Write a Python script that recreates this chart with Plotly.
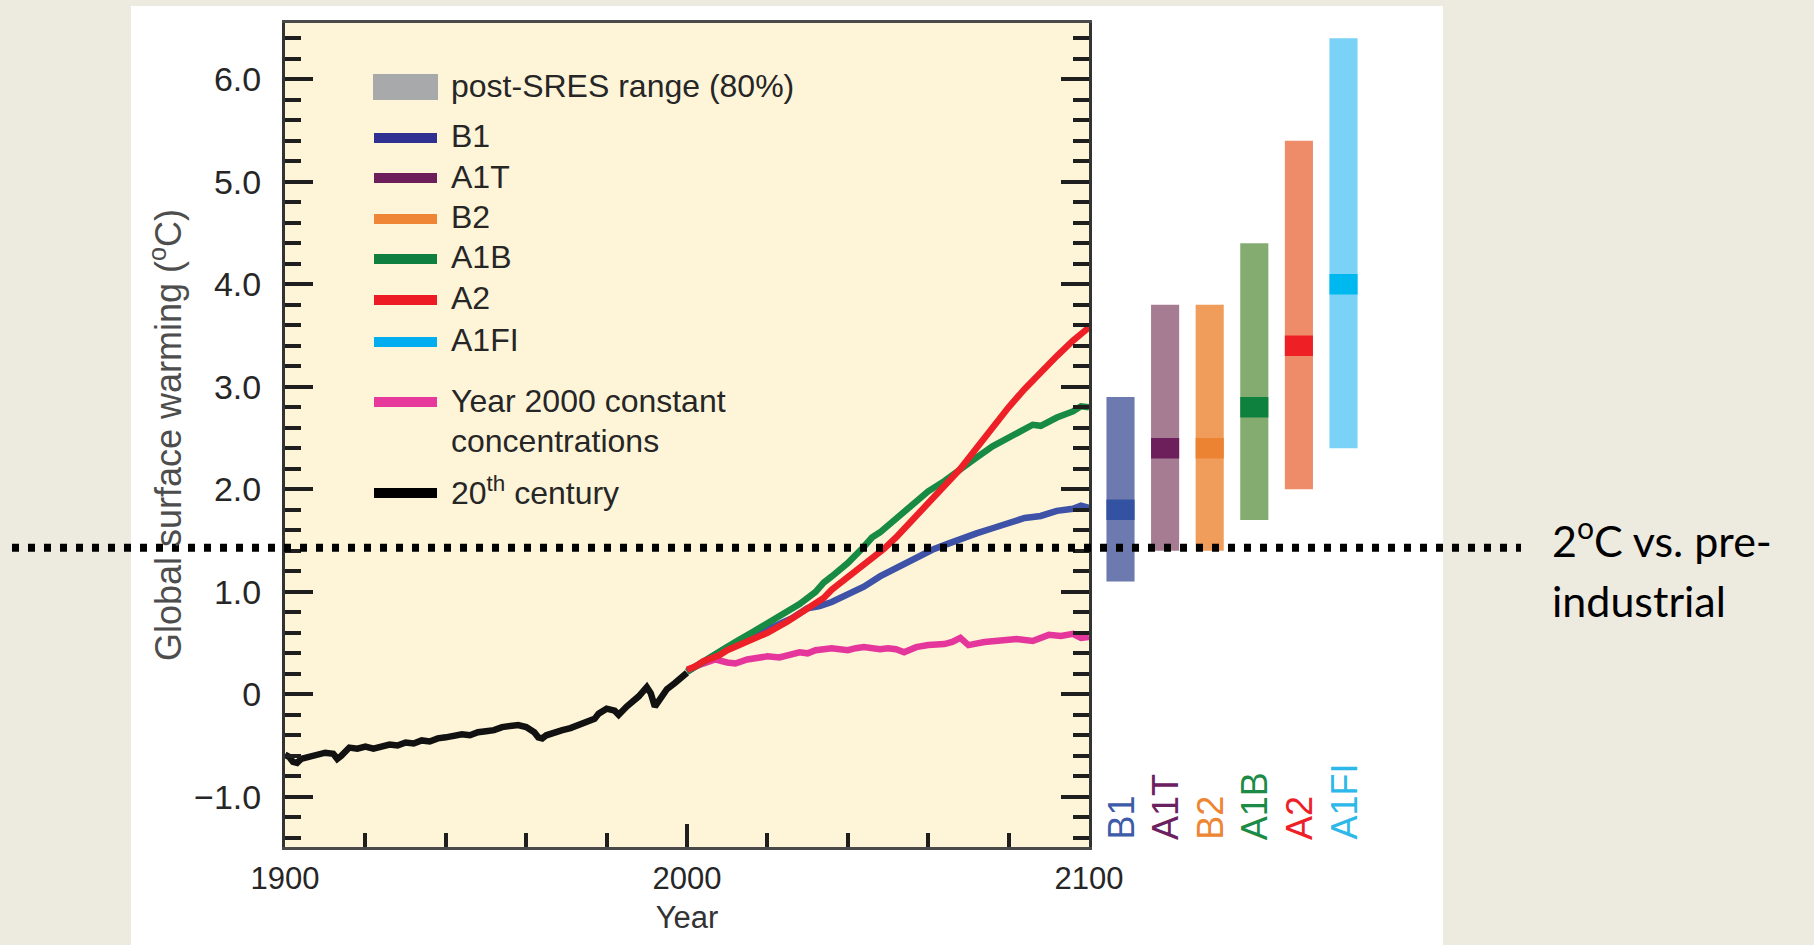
import plotly.graph_objects as go

W, H = 1814, 945

# ---------------- data ----------------
hist_years = [1900, 1901, 1902, 1903, 1904, 1906, 1908, 1910, 1912, 1913, 1914, 1916, 1918,
              1920, 1922, 1924, 1926, 1928, 1930, 1932, 1934, 1936, 1938, 1940, 1942, 1944,
              1946, 1948, 1950, 1952, 1954, 1956, 1958, 1960, 1962, 1963, 1964, 1965, 1967,
              1969, 1971, 1973, 1975, 1977, 1978, 1980, 1982, 1983, 1985, 1987, 1988, 1990,
              1991, 1992, 1993, 1995, 1997, 1998, 2000]
hist_vals = [-0.59, -0.61, -0.66, -0.67, -0.63, -0.61, -0.60, -0.57, -0.58, -0.63, -0.60, -0.52, -0.53,
             -0.51, -0.53, -0.51, -0.49, -0.50, -0.47, -0.48, -0.45, -0.46, -0.43, -0.42, -0.41, -0.39,
             -0.40, -0.37, -0.36, -0.35, -0.32, -0.31, -0.30, -0.32, -0.37, -0.42, -0.43, -0.40, -0.37,
             -0.35, -0.33, -0.30, -0.27, -0.24, -0.19, -0.14, -0.16, -0.20, -0.12, -0.06, -0.02, 0.07,
             0.01, -0.12, -0.06, 0.05, 0.11, 0.14, 0.21]

const_years = [2000, 2002, 2004, 2007, 2010, 2012, 2015, 2018, 2020, 2023, 2025, 2028, 2030,
               2032, 2036, 2040, 2042, 2044, 2048, 2050, 2052, 2054, 2057, 2060, 2064, 2066,
               2068, 2070, 2074, 2078, 2082, 2086, 2088, 2090, 2093, 2096, 2098, 2100]
const_vals = [0.22, 0.27, 0.30, 0.34, 0.31, 0.30, 0.34, 0.36, 0.37, 0.36, 0.38, 0.41, 0.40,
              0.43, 0.45, 0.43, 0.45, 0.46, 0.44, 0.45, 0.44, 0.41, 0.46, 0.48, 0.49, 0.51,
              0.55, 0.48, 0.51, 0.52, 0.54, 0.52, 0.55, 0.58, 0.57, 0.59, 0.55, 0.56]

b1_years = [2000, 2003, 2006, 2010, 2013, 2016, 2020, 2023, 2026, 2030, 2033, 2036, 2040,
            2044, 2048, 2052, 2056, 2058, 2061, 2065, 2068, 2072, 2076, 2080, 2084, 2088,
            2090, 2092, 2096, 2098, 2100]
b1_vals = [0.22, 0.29, 0.36, 0.46, 0.51, 0.56, 0.63, 0.68, 0.74, 0.84, 0.86, 0.90, 0.97,
           1.05, 1.15, 1.23, 1.31, 1.34, 1.41, 1.47, 1.52, 1.57, 1.62, 1.67, 1.72, 1.74,
           1.77, 1.79, 1.81, 1.84, 1.82]

a1b_years = [2000, 2004, 2008, 2012, 2016, 2020, 2024, 2028, 2032, 2034, 2036, 2040, 2044,
             2046, 2048, 2052, 2056, 2060, 2064, 2068, 2072, 2076, 2080, 2084, 2086, 2088,
             2092, 2096, 2098, 2100]
a1b_vals = [0.22, 0.32, 0.42, 0.51, 0.60, 0.69, 0.78, 0.88, 1.00, 1.09, 1.15, 1.28, 1.44,
            1.53, 1.58, 1.72, 1.86, 1.98, 2.08, 2.20, 2.31, 2.42, 2.50, 2.58, 2.63, 2.62,
            2.70, 2.76, 2.81, 2.80]

a2_years = [2000, 2002, 2004, 2006, 2008, 2010, 2013, 2015, 2018, 2020, 2025, 2028, 2032,
            2034, 2036, 2040, 2045, 2049, 2052, 2056, 2060, 2064, 2068, 2072, 2076, 2078,
            2080, 2084, 2088, 2092, 2096, 2100]
a2_vals = [0.24, 0.27, 0.32, 0.35, 0.38, 0.43, 0.48, 0.52, 0.57, 0.60, 0.71, 0.79, 0.88,
           0.94, 1.02, 1.14, 1.30, 1.42, 1.53, 1.70, 1.88, 2.03, 2.20, 2.40, 2.60, 2.72,
           2.80, 2.98, 3.15, 3.30, 3.45, 3.58]

scenarios = ["B1", "A1T", "B2", "A1B", "A2", "A1FI"]
best_2100 = [1.8, 2.4, 2.4, 2.8, 3.4, 4.0]
low_2100 = [1.1, 1.4, 1.4, 1.7, 2.0, 2.4]
high_2100 = [2.9, 3.8, 3.8, 4.4, 5.4, 6.4]

y_tickvals = [-1, 0, 1, 2, 3, 4, 5, 6]
y_ticktext = ["\u22121.0", "0", "1.0", "2.0", "3.0", "4.0", "5.0", "6.0"]
x_tickvals = [1900, 2000, 2100]
x_ticktext = ["1900", "2000", "2100"]

threshold_2c = 1.43

legend_labels = ["B1", "A1T", "B2", "A1B", "A2", "A1FI"]

# ---------------- styles ----------------
light_cols = ["#6C7AB0", "#A57C92", "#F09C5A", "#85AC70", "#EE8C69", "#7AD2F6"]
dark_cols = ["#3452A2", "#6C1F5B", "#EC8332", "#0F813F", "#EE2026", "#00B8F0"]
label_cols = ["#3D5BA9", "#6B2160", "#EE8533", "#1B8B45", "#EE2027", "#2DB8EA"]
key_cols = ["#2E3192", "#6D1F5C", "#EF8636", "#0F7F3F", "#ED1C24", "#00AEEF"]
band_half = 0.1

FONT = "Liberation Sans, Arial, Helvetica, sans-serif"


def px(x):
    return x / W


def py(y):
    return 1 - y / H


fig = go.Figure()

line_w = 6.5
fig.add_trace(go.Scatter(x=hist_years, y=hist_vals, mode="lines",
                         line=dict(color="#111111", width=line_w), name="20th century"))
fig.add_trace(go.Scatter(x=const_years, y=const_vals, mode="lines",
                         line=dict(color="#E5379B", width=line_w), name="Year 2000 constant concentrations"))
fig.add_trace(go.Scatter(x=b1_years, y=b1_vals, mode="lines",
                         line=dict(color="#3E52A8", width=line_w), name="B1"))
fig.add_trace(go.Scatter(x=a1b_years, y=a1b_vals, mode="lines",
                         line=dict(color="#178A43", width=line_w), name="A1B"))
fig.add_trace(go.Scatter(x=a2_years, y=a2_vals, mode="lines",
                         line=dict(color="#EE2027", width=line_w), name="A2"))

# likely ranges at 2100 (light bars) and best estimates (dark bands)
fig.add_trace(go.Bar(x=scenarios, y=[h - l for h, l in zip(high_2100, low_2100)], base=low_2100,
                     xaxis="x2", yaxis="y", width=0.63,
                     marker=dict(color=light_cols, line=dict(width=0)), name="likely range"))
fig.add_trace(go.Bar(x=scenarios, y=[2 * band_half] * len(best_2100),
                     base=[b - band_half for b in best_2100],
                     xaxis="x2", yaxis="y", width=0.63,
                     marker=dict(color=dark_cols, line=dict(width=0)), name="best estimate"))

shapes = []
# white panel behind the figure
shapes.append(dict(type="rect", xref="paper", yref="paper", x0=px(131), x1=px(1443),
                   y0=0, y1=py(6), fillcolor="#FFFFFF", line=dict(width=0), layer="below"))
# yellow plot background
shapes.append(dict(type="rect", xref="paper", yref="paper", x0=px(285), x1=px(1089),
                   y0=py(847), y1=py(23), fillcolor="#FEF5D8", line=dict(width=0), layer="below"))

# manual legend keys
shapes.append(dict(type="rect", xref="paper", yref="paper", x0=px(373), x1=px(438),
                   y0=py(100), y1=py(74), fillcolor="#A8A9AB", line=dict(width=0), layer="above"))
key_y = [138, 178, 219, 259, 300, 342, 402, 493]
key_c = key_cols + ["#E6399B", "#000000"]
for yk, c in zip(key_y, key_c):
    shapes.append(dict(type="line", xref="paper", yref="paper", x0=px(374), x1=px(437),
                       y0=py(yk), y1=py(yk), line=dict(color=c, width=10), layer="above"))

# 2 degC vs. pre-industrial dotted line
shapes.append(dict(type="line", xref="paper", yref="y", x0=px(12), x1=px(1521),
                   y0=threshold_2c, y1=threshold_2c,
                   line=dict(color="#000000", width=8, dash="7px,9px"), layer="above"))

annotations = []
leg_font = dict(family=FONT, size=32, color="#262626")
leg_texts = ["post-SRES range (80%)"] + legend_labels + ["Year 2000 constant", "concentrations",
                                                          "20<sup>th</sup> century"]
leg_ty = [86, 136, 177, 217, 257, 298, 340, 401, 441, 491]
for t, yt in zip(leg_texts, leg_ty):
    annotations.append(dict(text=t, xref="paper", yref="paper", x=px(449), y=py(yt),
                            xanchor="left", yanchor="middle", showarrow=False, font=leg_font))

# rotated scenario labels under the bars
for s, c in zip(scenarios, label_cols):
    annotations.append(dict(text=s, xref="x2", yref="paper", x=s, y=py(842),
                            xanchor="center", yanchor="bottom", textangle=-90, showarrow=False,
                            font=dict(family=FONT, size=36, color=c)))

# side note
note_font = dict(family="Lato, Open Sans, sans-serif", size=43, color="#000000")
annotations.append(dict(text="2<sup>o</sup>C vs. pre-", xref="paper", yref="paper",
                        x=px(1550), y=py(537), xanchor="left", yanchor="middle",
                        showarrow=False, font=note_font))
annotations.append(dict(text="industrial", xref="paper", yref="paper",
                        x=px(1550), y=py(600), xanchor="left", yanchor="middle",
                        showarrow=False, font=note_font))

xtick_font = dict(family=FONT, size=31, color="#262626")
ytick_font = dict(family=FONT, size=34, color="#262626")

fig.update_layout(
    width=W, height=H, autosize=False,
    margin=dict(l=0, r=0, t=0, b=0, pad=0),
    paper_bgcolor="#EDEAE0",
    plot_bgcolor="rgba(0,0,0,0)",
    showlegend=False,
    barmode="overlay",
    shapes=shapes,
    annotations=annotations,
    xaxis=dict(
        domain=[px(285), px(1089)], range=[1900, 2100], anchor="y", automargin=False,
        tickmode="array", tickvals=x_tickvals, ticktext=x_ticktext,
        ticks="inside", ticklen=23, tickwidth=4, tickcolor="#1E1E1E",
        minor=dict(dtick=20, tick0=1900, ticks="inside", ticklen=14, tickwidth=4,
                   tickcolor="#1E1E1E", showgrid=False),
        showline=True, linecolor="#4A4A4A", linewidth=3, mirror=True,
        showgrid=False, zeroline=False, tickfont=xtick_font, ticklabelstandoff=2,
        title=dict(text="Year", font=dict(family=FONT, size=31, color="#333333"), standoff=12),
    ),
    yaxis=dict(
        domain=[py(847), py(23)], range=[-1.49, 6.55], anchor="x", automargin=False,
        tickmode="array", tickvals=y_tickvals, ticktext=y_ticktext,
        ticks="inside", ticklen=28, tickwidth=4, tickcolor="#1E1E1E",
        minor=dict(dtick=0.2, tick0=0, ticks="inside", ticklen=16, tickwidth=4,
                   tickcolor="#1E1E1E", showgrid=False),
        showline=True, linecolor="#333333", linewidth=3, mirror="ticks",
        showgrid=False, zeroline=False, tickfont=ytick_font, ticklabelstandoff=14,
        title=dict(text="Global surface warming (<sup>o</sup>C)",
                   font=dict(family=FONT, size=36, color="#4D4D4D"), standoff=2),
    ),
    xaxis2=dict(
        domain=[px(1098.2), px(1365.8)], anchor="y", type="category", automargin=False,
        categoryorder="array", categoryarray=scenarios, range=[-0.5, 5.5],
        showticklabels=False, ticks="", showline=False, showgrid=False, zeroline=False,
    ),
)

fig.write_html("out.html")
